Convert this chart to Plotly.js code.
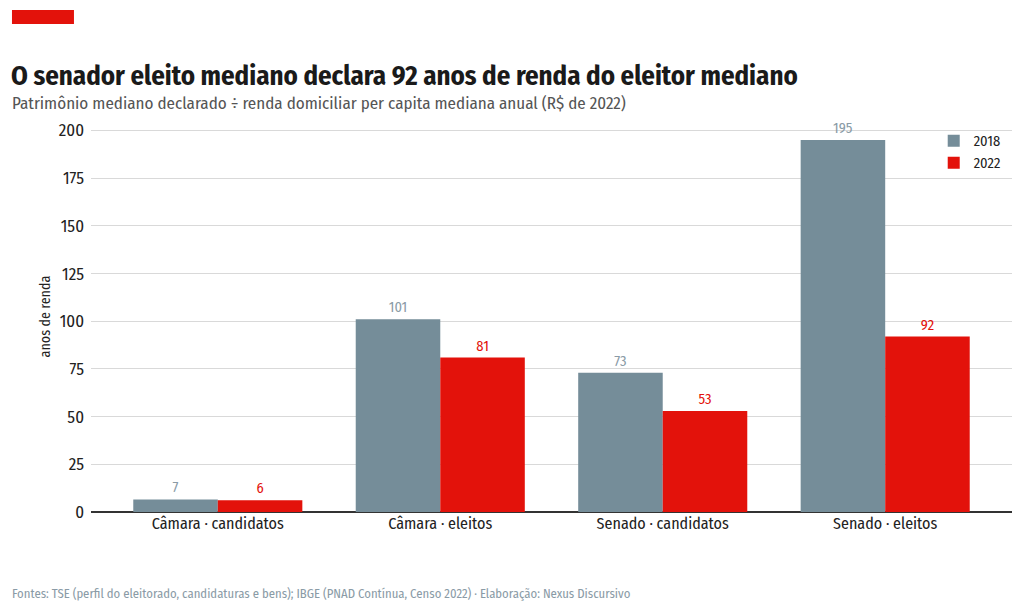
<!DOCTYPE html>
<html>
<head>
<meta charset="utf-8">
<script src="https://cdn.plot.ly/plotly-3.0.1.min.js"></script>
<style>
  html, body { margin: 0; padding: 0; background: #fff; }
  #chart { width: 1024px; height: 613px; }
</style>
</head>
<body>
<div id="chart"></div>
<script>
// categories and series
var categories = ['Câmara · candidatos', 'Câmara · eleitos', 'Senado · candidatos', 'Senado · eleitos'];
var values2018 = [6.6, 101, 73, 195];
var values2022 = [6.2, 81, 53, 92];
var yTicks = [0, 25, 50, 75, 100, 125, 150, 175, 200];

var fontFamily = '"Fira Sans Condensed", "Liberation Sans Narrow", "DejaVu Sans Condensed", Roboto, sans-serif';
var grey = '#758d99';
var red = '#e3120b';

var trace2018 = {
	type: 'bar',
	name: '2018',
	x: categories,
	y: values2018,
	marker: {color: grey},
	text: values2018.map(v => Math.round(v).toString()),
	textposition: 'outside',
	cliponaxis: false,
	textfont: {color: '#8a9ba6', size: 14.5, family: fontFamily},
	hoverinfo: 'skip'
};
var trace2022 = {
	type: 'bar',
	name: '2022',
	x: categories,
	y: values2022,
	marker: {color: red},
	text: values2022.map(v => Math.round(v).toString()),
	textposition: 'outside',
	cliponaxis: false,
	textfont: {color: red, size: 14.5, family: fontFamily},
	hoverinfo: 'skip'
};

// paper coords: plot spans x 91..1012 px, y 121..512 px
var layout = {
	width: 1024,
	height: 613,
	margin: {l: 91, r: 12, t: 121, b: 101},
	paper_bgcolor: '#fff',
	plot_bgcolor: '#fff',
	font: {family: fontFamily, color: '#222', size: 15},
	barmode: 'group',
	bargap: 0.24,
	bargroupgap: 0,
	title: {
		text: '<b>O senador eleito mediano declara 92 anos de renda do eleitor mediano</b>',
		font: {size: 26.8, color: '#1a1a1a', family: fontFamily},
		x: 11 / 1024, xref: 'container', xanchor: 'left',
		y: 1 - 76 / 613, yref: 'container', yanchor: 'middle'
	},
	xaxis: {
		range: [-0.57, 3.57],
		showgrid: false,
		zeroline: false,
		showline: false,
		ticks: '',
		tickfont: {size: 16, color: '#222'},
		fixedrange: true
	},
	yaxis: {
		range: [0, 205],
		tickvals: yTicks,
		showgrid: true,
		gridcolor: '#d9d9d9',
		gridwidth: 1,
		zeroline: true,
		zerolinecolor: '#333',
		zerolinewidth: 1.5,
		showline: false,
		ticks: '',
		ticklabelstandoff: 6,
		tickfont: {size: 17, color: '#222'},
		title: {text: 'anos de renda', font: {size: 14, color: '#222'}, standoff: 4},
		fixedrange: true
	},
	showlegend: true,
	legend: {
		x: 0.915, xanchor: 'left',
		y: 0.99, yanchor: 'top',
		bgcolor: 'rgba(0,0,0,0)',
		font: {size: 14.5, color: '#222'},
		itemwidth: 30
	},
	shapes: [
		{type: 'rect', xref: 'paper', yref: 'paper',
			x0: -0.0858, x1: -0.0185, y0: 1.248, y1: 1.284,
			fillcolor: red, line: {width: 0}}
	],
	annotations: [
		{
			text: 'Patrimônio mediano declarado ÷ renda domiciliar per capita mediana anual (R$ de 2022)',
			xref: 'paper', yref: 'paper', x: -0.088, y: 1.046,
			xanchor: 'left', yanchor: 'middle', showarrow: false,
			font: {size: 17, color: '#555'}
		},
		{
			text: 'Fontes: TSE (perfil do eleitorado, candidaturas e bens); IBGE (PNAD Contínua, Censo 2022) · Elaboração: Nexus Discursivo',
			xref: 'paper', yref: 'paper', x: -0.088, y: -0.2097,
			xanchor: 'left', yanchor: 'middle', showarrow: false,
			font: {size: 12.7, color: '#8a9ba6'}
		}
	]
};

Plotly.newPlot('chart', [trace2018, trace2022], layout, {displayModeBar: false, staticPlot: true});
</script>
</body>
</html>
